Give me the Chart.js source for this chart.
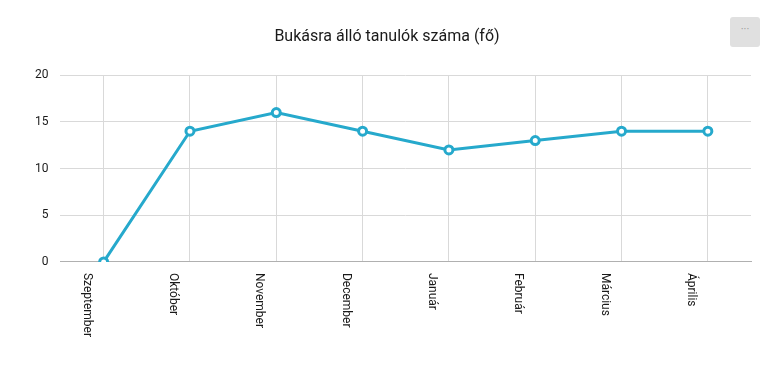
<!DOCTYPE html>
<html>
<head>
<meta charset="utf-8">
<script src="https://cdn.jsdelivr.net/npm/chart.js@4"></script>
<style>
  html, body { margin: 0; padding: 0; background: #fff; }
  #wrap { position: relative; width: 774px; height: 372px; }
  #menuBtn {
    position: absolute; left: 730px; top: 17px; width: 30px; height: 30px;
    background: #e0e0e0; border-radius: 3px; color: #999;
    font: 11px Roboto, sans-serif; text-align: center; line-height: 26px;
  }
</style>
</head>
<body>
<div id="wrap">
  <canvas id="chart" width="774" height="372"></canvas>
  <div id="menuBtn">···</div>
</div>
<script>
// havi adatok
const months = ["Szeptember", "Október", "November", "December", "Január", "Február", "Március", "Április"];
const failing = [0, 14, 16, 14, 12, 13, 14, 14];
const yTicks = [0, 5, 10, 15, 20];

const lineColor = '#26a9cc';
const textColor = '#1a1a1a';

// x feliratok: felülről lefelé olvasható elforgatás (órairányban 90 fok)
const downLabels = {
    id: 'downLabels',
    afterDraw(chart) {
        const sc = chart.scales.x;
        const ctx = chart.ctx;
        ctx.save();
        ctx.fillStyle = textColor;
        ctx.font = '12px Roboto';
        ctx.textAlign = 'left';
        ctx.textBaseline = 'middle';
        sc.ticks.forEach((t, i) => {
            const x = sc.getPixelForTick(i) - 17;
            ctx.save();
            ctx.translate(x, sc.top + 11);
            ctx.rotate(Math.PI / 2);
            ctx.fillText(sc.getLabelForValue(t.value), 0, 0);
            ctx.restore();
        });
        ctx.restore();
    }
};

new Chart(document.getElementById('chart'), {
    type: 'line',
    data: {
        labels: months,
        datasets: [{
            data: failing,
            borderColor: lineColor,
            borderWidth: 3,
            backgroundColor: '#fff',
            pointBackgroundColor: '#fff',
            pointBorderColor: lineColor,
            pointBorderWidth: 3,
            pointRadius: 4,
            tension: 0
        }]
    },
    options: {
        responsive: false,
        animation: false,
        layout: { padding: { left: 23, right: 23, bottom: 26, top: 0 } },
        plugins: {
            legend: { display: false },
            tooltip: { enabled: false },
            title: {
                display: true,
                text: 'Bukásra álló tanulók száma (fő)',
                color: textColor,
                font: { family: 'Roboto', size: 16, weight: 'normal' },
                padding: { top: 27, bottom: 29 }
            }
        },
        scales: {
            x: {
                offset: true,
                grid: { color: '#d9d9d9', drawTicks: false, offset: false },
                border: { color: '#b0b0b0' },
                ticks: {
                    minRotation: 90, maxRotation: 90, padding: 10,
                    color: 'rgba(0,0,0,0)', font: { family: 'Roboto', size: 12 }
                }
            },
            y: {
                min: 0, max: 20,
                afterBuildTicks: axis => { axis.ticks = yTicks.map(v => ({ value: v })); },
                grid: { color: '#d9d9d9', drawTicks: false },
                border: { display: false },
                ticks: { padding: 12, color: textColor, font: { family: 'Roboto', size: 12 } }
            }
        }
    },
    plugins: [downLabels]
});
</script>
</body>
</html>
